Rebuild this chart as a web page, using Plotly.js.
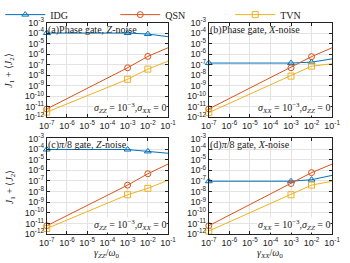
<!DOCTYPE html>
<html><head><meta charset="utf-8">
<script src="https://cdn.plot.ly/plotly-3.0.1.min.js"></script>
<style>html,body{margin:0;padding:0;background:#fff}#c{width:350px;height:263px}</style>
</head><body><div id="c"></div>
<script>
const xVals = [1e-7, 1e-3, 1e-2, 1e-1];
const seriesNames = ['IDG', 'QSN', 'TVN'];
const a_IDG = [1e-4, 1e-4, 8e-5, 4.5e-5];
const a_QSN = [6e-12, 5e-8, 6e-7, 4e-6];
const a_TVN = [3e-12, 4e-9, 3.7e-8, 2.1e-7];
const b_IDG = [1.4e-7, 1.4e-7, 1.7e-7, 3.5e-7];
const b_QSN = [6e-12, 5e-8, 5.7e-7, 4e-6];
const b_TVN = [2.7e-12, 8e-9, 7e-8, 1.2e-7];
const c_IDG = [9e-5, 9e-5, 6e-5, 4e-5];
const c_QSN = [6e-12, 4e-8, 4.7e-7, 3.8e-6];
const c_TVN = [3.3e-12, 5e-9, 2e-8, 1.15e-7];
const d_IDG = [9.3e-8, 9.3e-8, 1.3e-7, 3.3e-7];
const d_QSN = [6e-12, 5.7e-8, 6e-7, 3.8e-6];
const d_TVN = [1.9e-12, 5e-9, 4e-8, 9.3e-8];
const xTickVals = [1e-7, 1e-6, 1e-5, 1e-4, 1e-3, 1e-2, 1e-1];
const xTickText = ['10<sup>-7</sup>', '10<sup>-6</sup>', '10<sup>-5</sup>', '10<sup>-4</sup>', '10<sup>-3</sup>', '10<sup>-2</sup>', '10<sup>-1</sup>'];
const yTickVals = [1e-12, 1e-11, 1e-10, 1e-9, 1e-8, 1e-7, 1e-6, 1e-5, 1e-4, 1e-3];
const yTickText = ['10<sup>-12</sup>', '10<sup>-11</sup>', '10<sup>-10</sup>', '10<sup>-9</sup>', '10<sup>-8</sup>', '10<sup>-7</sup>', '10<sup>-6</sup>', '10<sup>-5</sup>', '10<sup>-4</sup>', '10<sup>-3</sup>'];
const panelTitles = ['(a)Phase gate, <i>Z</i>-noise', '(b)Phase gate, <i>X</i>-noise',
  '(c)<i>π</i>/8 gate, <i>Z</i>-noise', '(d)<i>π</i>/8 gate, <i>X</i>-noise'];
const panelNotes = ['<i>σ<sub>ZZ</sub></i> = 10<sup>−3</sup>,<i>σ<sub>XX</sub></i> = 0',
  '<i>σ<sub>XX</sub></i> = 10<sup>−3</sup>,<i>σ<sub>ZZ</sub></i> = 0',
  '<i>σ<sub>ZZ</sub></i> = 10<sup>−3</sup>,<i>σ<sub>XX</sub></i> = 0',
  '<i>σ<sub>XX</sub></i> = 10<sup>−3</sup>,<i>σ<sub>ZZ</sub></i> = 0'];
const xTitles = ['<i>γ<sub>ZZ</sub></i>/<i>ω</i><sub>0</sub>', '<i>γ<sub>XX</sub></i>/<i>ω</i><sub>0</sub>'];
const yTitle = '<i>J</i><sub>1</sub> + ⟨<i>J</i><sub>2</sub>⟩';

const colors = ['#0072BD', '#D95319', '#EDB120'];
const symbols = ['triangle-up-open', 'circle-open', 'square-open'];
const panels = [[a_IDG, a_QSN, a_TVN], [b_IDG, b_QSN, b_TVN], [c_IDG, c_QSN, c_TVN], [d_IDG, d_QSN, d_TVN]];

const W = 350, H = 263;
const xDom = [[45 / W, 167 / W], [208 / W, 332 / W]];
const yDom = [[1 - 112 / H, 1 - 14 / H], [1 - 233 / H, 1 - 134 / H]];

const traces = [];
panels.forEach((p, i) => {
  const ax = i === 0 ? '' : String(i + 1);
  p.forEach((ys, k) => {
    traces.push({
      x: xVals, y: ys, type: 'scatter', mode: 'lines+markers',
      name: seriesNames[k], showlegend: i === 0,
      xaxis: 'x' + ax, yaxis: 'y' + ax, cliponaxis: false,
      line: {color: colors[k], width: 1},
      marker: {symbol: symbols[k], size: 6, color: colors[k], line: {width: 1, color: colors[k]}}
    });
  });
});

const tickFont = {family: 'Liberation Sans, Arial, sans-serif', size: 9, color: '#222'};
const serif = 'Liberation Serif, Times New Roman, serif';
const layout = {
  width: W, height: H, margin: {l: 0, r: 0, t: 0, b: 0},
  paper_bgcolor: '#fff', plot_bgcolor: '#fff',
  showlegend: true,
  legend: {orientation: 'h', x: -0.005, y: 1.035, xanchor: 'left', yanchor: 'top',
    font: {family: serif, size: 10, color: '#222'}, entrywidth: 60, entrywidthmode: 'pixels',
    bgcolor: 'rgba(255,255,255,0)', borderwidth: 0, tracegroupgap: 0, itemwidth: 40},
  annotations: []
};
for (let i = 0; i < 4; i++) {
  const ax = i === 0 ? '' : String(i + 1);
  const col = i % 2, row = Math.floor(i / 2);
  layout['xaxis' + ax] = {
    type: 'log', range: [-7, -1], domain: xDom[col], anchor: 'y' + ax,
    tickvals: xTickVals, ticktext: xTickText,
    showgrid: true, gridcolor: '#e3e3e3', gridwidth: 1,
    showline: true, linecolor: '#222', linewidth: 1, mirror: 'ticks',
    ticks: 'inside', ticklen: 3, tickcolor: '#222', tickfont: tickFont, zeroline: false, tickangle: 0
  };
  layout['yaxis' + ax] = {
    type: 'log', range: [-12, -3], domain: yDom[row], anchor: 'x' + ax,
    tickvals: yTickVals, ticktext: yTickText,
    showgrid: true, gridcolor: '#e3e3e3', gridwidth: 1,
    showline: true, linecolor: '#222', linewidth: 1, mirror: 'ticks',
    ticks: 'inside', ticklen: 3, tickcolor: '#222', tickfont: tickFont, zeroline: false
  };
  layout.annotations.push({
    xref: 'x' + ax + ' domain', yref: 'y' + ax + ' domain', x: 0.005, y: 1.0,
    xanchor: 'left', yanchor: 'top', showarrow: false, text: panelTitles[i],
    font: {family: serif, size: 10, color: '#222'}, borderpad: 0
  });
  layout.annotations.push({
    xref: 'x' + ax + ' domain', yref: 'y' + ax + ' domain', x: 0.995, y: 0.01,
    xanchor: 'right', yanchor: 'bottom', showarrow: false, text: panelNotes[i],
    font: {family: serif, size: 10, color: '#222'}, bgcolor: '#fff', borderpad: 0
  });
}
[0, 1].forEach(r => {
  layout.annotations.push({
    xref: 'paper', yref: 'paper', x: 8 / W, y: (yDom[r][0] + yDom[r][1]) / 2,
    xanchor: 'center', yanchor: 'middle', textangle: -90, showarrow: false, text: yTitle,
    font: {family: serif, size: 10, color: '#222'}
  });
});
[0, 1].forEach(c => {
  layout.annotations.push({
    xref: 'paper', yref: 'paper', x: (xDom[c][0] + xDom[c][1]) / 2, y: 1 - 253 / H,
    xanchor: 'center', yanchor: 'middle', showarrow: false, text: xTitles[c],
    font: {family: serif, size: 10, color: '#222'}
  });
});
Plotly.newPlot('c', traces, layout, {staticPlot: true, displayModeBar: false});
</script></body></html>
